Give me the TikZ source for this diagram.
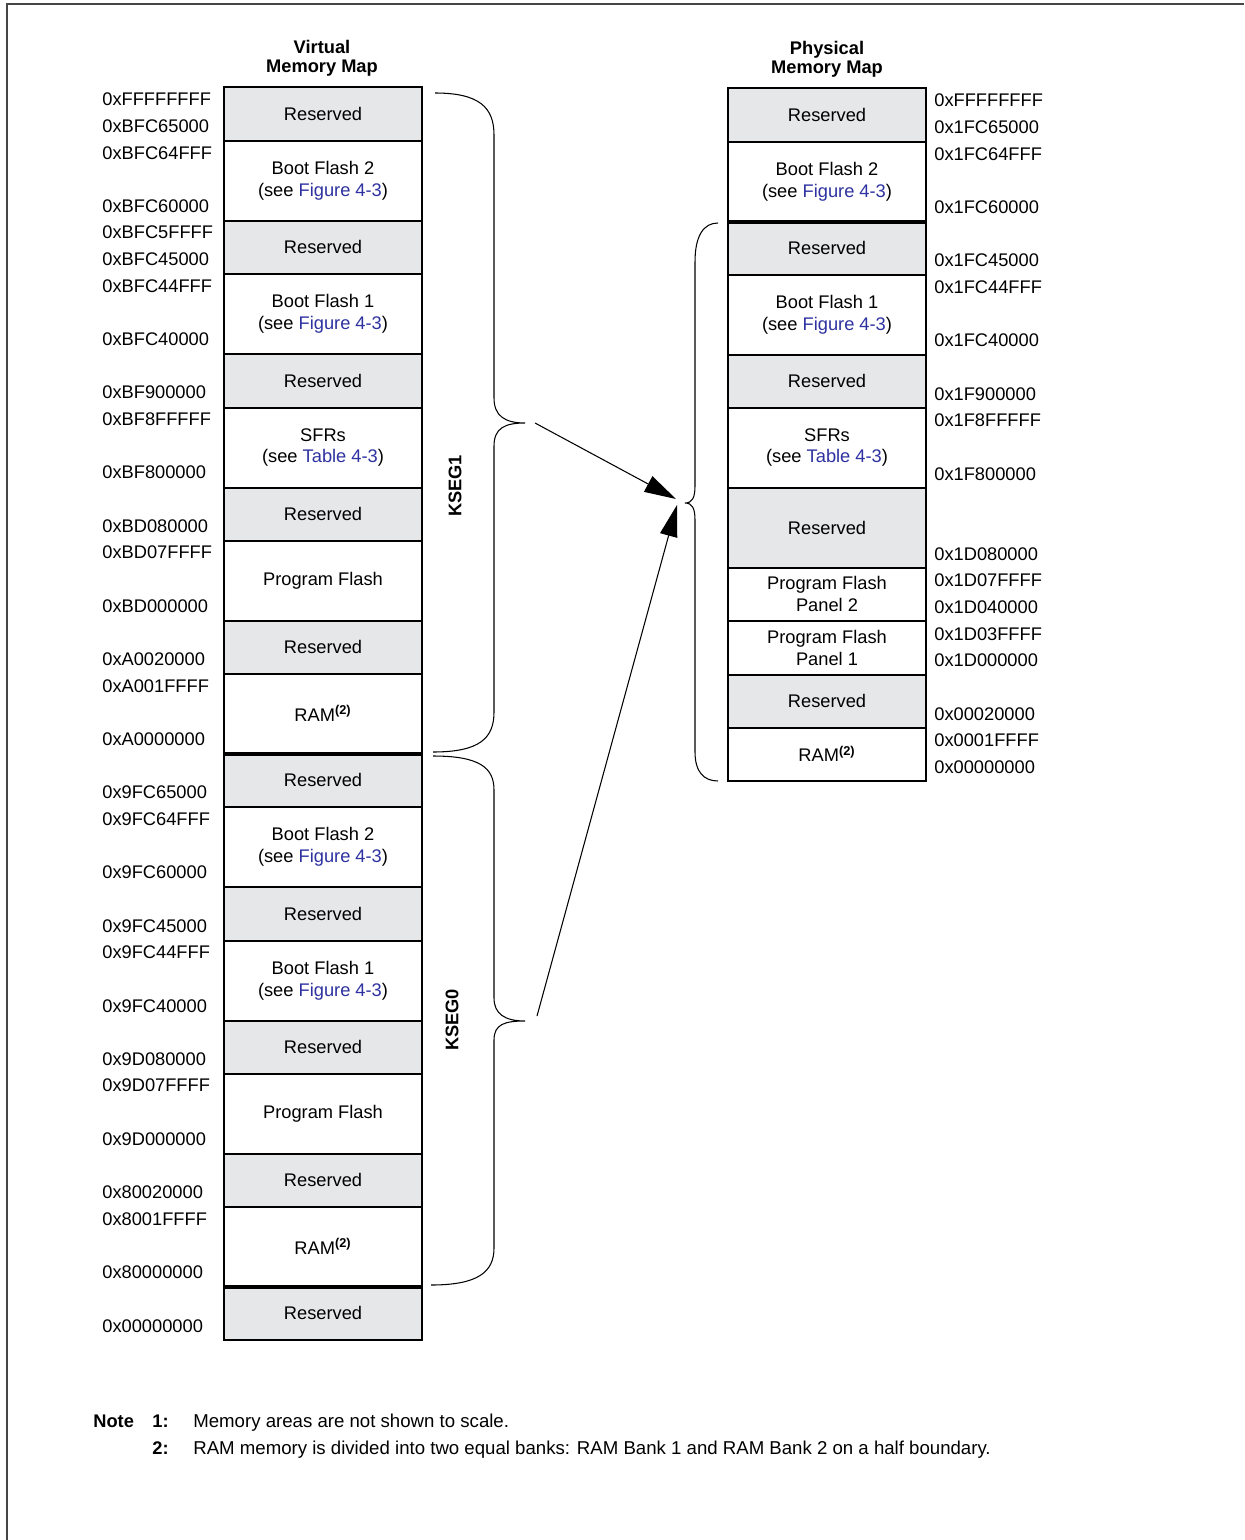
\documentclass[tikz,border=0pt]{standalone}
\usepackage{fontspec}
\setmainfont{Liberation Sans}
\usetikzlibrary{arrows.meta}
\definecolor{resgray}{RGB}{230,231,232}
\definecolor{linkblue}{RGB}{45,50,160}
\definecolor{framegray}{RGB}{70,70,70}
\newcommand{\lnk}[1]{\textcolor{linkblue}{#1}}
\newcommand{\ramnote}{RAM\textsuperscript{\bfseries(2)}}
\tikzset{
  resbox/.style={draw, line width=0.6pt, fill=resgray},
  membox/.style={draw, line width=0.6pt, fill=white},
  midtext/.style={pos=.5, yshift=0.01cm, align=center, inner sep=0pt},
  addr/.style={anchor=west, inner sep=0pt, yshift=-0.02cm},
  bar/.style={line width=2.3pt},
  brace/.style={line width=0.6pt},
  head/.style={align=center, font=\bfseries\fontsize{10.4}{10.8}\selectfont},
  seglbl/.style={rotate=90, font=\bfseries},
  notetext/.style={anchor=west, inner sep=0pt, font=\fontsize{10.6}{12.5}\selectfont},
  map/.style={line width=0.6pt, -{Triangle[length=18pt, width=10pt]}}
}
\begin{document}
\fontsize{10.4}{12.5}\selectfont
\begin{tikzpicture}[x=0.02cm, y=-0.02cm]
  \useasboundingbox (0,0) rectangle (1244,1540);
  \draw[framegray, line width=1.1pt] (7,1540) -- (7,4) -- (1244,4);

  % virtual map
  \node[head] (vhead) at (322,58) {Virtual\\Memory Map};
  \draw[resbox] (224,87) rectangle (422,141) node (vr1) [midtext] {Reserved}
                (224,221) rectangle (422,274) node (vr2) [midtext] {Reserved}
                (224,354) rectangle (422,408) node (vr3) [midtext] {Reserved}
                (224,488) rectangle (422,541) node (vr4) [midtext] {Reserved}
                (224,621) rectangle (422,674) node (vr5) [midtext] {Reserved}
                (224,754) rectangle (422,807) node (vr6) [midtext] {Reserved}
                (224,887) rectangle (422,941) node (vr7) [midtext] {Reserved}
                (224,1021) rectangle (422,1074) node (vr8) [midtext] {Reserved}
                (224,1154) rectangle (422,1207) node (vr9) [midtext] {Reserved}
                (224,1287) rectangle (422,1340) node (vr10) [midtext] {Reserved};
  \draw[membox] (224,141) rectangle (422,221) node (vbf2a) [midtext] {Boot Flash 2\\(see \lnk{Figure 4-3})}
                (224,274) rectangle (422,354) node (vbf1a) [midtext] {Boot Flash 1\\(see \lnk{Figure 4-3})}
                (224,408) rectangle (422,488) node (vsfr) [midtext] {SFRs\\(see \lnk{Table 4-3})}
                (224,541) rectangle (422,621) node (vpfa) [midtext] {Program Flash}
                (224,674) rectangle (422,754) node (vrama) [midtext] {\ramnote}
                (224,807) rectangle (422,887) node (vbf2b) [midtext] {Boot Flash 2\\(see \lnk{Figure 4-3})}
                (224,941) rectangle (422,1021) node (vbf1b) [midtext] {Boot Flash 1\\(see \lnk{Figure 4-3})}
                (224,1074) rectangle (422,1154) node (vpfb) [midtext] {Program Flash}
                (224,1207) rectangle (422,1287) node (vramb) [midtext] {\ramnote};
  \draw[bar] (224,754) -- (422,754)
             (224,1287) -- (422,1287);
  \foreach \y/\t [count=\i] in {98/0xFFFFFFFF, 125/0xBFC65000, 152/0xBFC64FFF, 205/0xBFC60000,
      231/0xBFC5FFFF, 258/0xBFC45000, 285/0xBFC44FFF, 338/0xBFC40000, 391/0xBF900000,
      418/0xBF8FFFFF, 471/0xBF800000, 525/0xBD080000, 551/0xBD07FFFF, 605/0xBD000000,
      658/0xA0020000, 685/0xA001FFFF, 738/0xA0000000, 791/0x9FC65000, 818/0x9FC64FFF,
      871/0x9FC60000, 925/0x9FC45000, 951/0x9FC44FFF, 1005/0x9FC40000, 1058/0x9D080000,
      1084/0x9D07FFFF, 1138/0x9D000000, 1191/0x80020000, 1218/0x8001FFFF, 1271/0x80000000,
      1325/0x00000000}
    \node[addr] (va\i) at (102,\y) {\t};

  % physical map
  \node[head] (phead) at (827,59) {Physical\\Memory Map};
  \draw[resbox] (728,88) rectangle (926,142) node (pr1) [midtext] {Reserved}
                (728,222) rectangle (926,275) node (pr2) [midtext] {Reserved}
                (728,355) rectangle (926,408) node (pr3) [midtext] {Reserved}
                (728,488) rectangle (926,568) node (pr4) [midtext] {Reserved}
                (728,675) rectangle (926,728) node (pr5) [midtext] {Reserved};
  \draw[membox] (728,142) rectangle (926,222) node (pbf2) [midtext] {Boot Flash 2\\(see \lnk{Figure 4-3})}
                (728,275) rectangle (926,355) node (pbf1) [midtext] {Boot Flash 1\\(see \lnk{Figure 4-3})}
                (728,408) rectangle (926,488) node (psfr) [midtext] {SFRs\\(see \lnk{Table 4-3})}
                (728,568) rectangle (926,621) node (ppf2) [midtext] {Program Flash\\Panel 2}
                (728,621) rectangle (926,675) node (ppf1) [midtext] {Program Flash\\Panel 1}
                (728,728) rectangle (926,781) node (pram) [midtext] {\ramnote};
  \draw[bar] (728,222) -- (926,222);
  \foreach \y/\t [count=\i] in {99/0xFFFFFFFF, 126/0x1FC65000, 153/0x1FC64FFF, 206/0x1FC60000,
      259/0x1FC45000, 286/0x1FC44FFF, 339/0x1FC40000, 393/0x1F900000, 419/0x1F8FFFFF,
      473/0x1F800000, 553/0x1D080000, 579/0x1D07FFFF, 606/0x1D040000, 633/0x1D03FFFF,
      659/0x1D000000, 713/0x00020000, 739/0x0001FFFF, 766/0x00000000}
    \node[addr] (pa\i) at (934,\y) {\t};

  % braces
  \draw[brace] (435,93) .. controls (480,93) and (494,108) .. (494,135) -- (494,398)
               .. controls (494,416) and (505,423) .. (525,423)
               .. controls (505,423) and (494,428) .. (494,446) -- (494,712)
               .. controls (494,738) and (480,752) .. (433,752);
  \draw[brace] (433,756) .. controls (480,756) and (494,768) .. (494,790) -- (494,998)
               .. controls (494,1014) and (505,1021) .. (525,1021)
               .. controls (505,1021) and (494,1024) .. (494,1040) -- (494,1248)
               .. controls (494,1272) and (478,1285) .. (431,1285);
  \draw[brace] (718,223) .. controls (704,223) and (695,235) .. (695,262) -- (695,486)
               .. controls (695,498) and (692,503) .. (685,503)
               .. controls (692,503) and (695,508) .. (695,520) -- (695,752)
               .. controls (695,772) and (704,781) .. (718,781);
  \node[seglbl] (kseg1) at (455,486) {KSEG1};
  \node[seglbl] (kseg0) at (452,1020) {KSEG0};

  % mapping arrows
  \coordinate (k1) at (535,423);
  \coordinate (k0) at (537,1016);
  \coordinate (pin1) at (676,499);
  \coordinate (pin0) at (677,505);
  \draw[map] (k1) -- (pin1);
  \draw[map] (k0) -- (pin0);

  % notes
  \node[anchor=west, inner sep=0pt, font=\bfseries] (note) at (93,1421) {Note};
  \node[anchor=east, inner sep=0pt, font=\bfseries] (n1) at (169,1421) {1:};
  \node[anchor=east, inner sep=0pt, font=\bfseries] (n2) at (169,1448) {2:};
  \node[notetext] (t1) at (193,1423) {Memory areas are not shown to scale.};
  \node[notetext] (t2) at (193,1450) {RAM memory is divided into two equal banks: RAM Bank 1 and RAM Bank 2 on a half boundary.};
\end{tikzpicture}
\end{document}
